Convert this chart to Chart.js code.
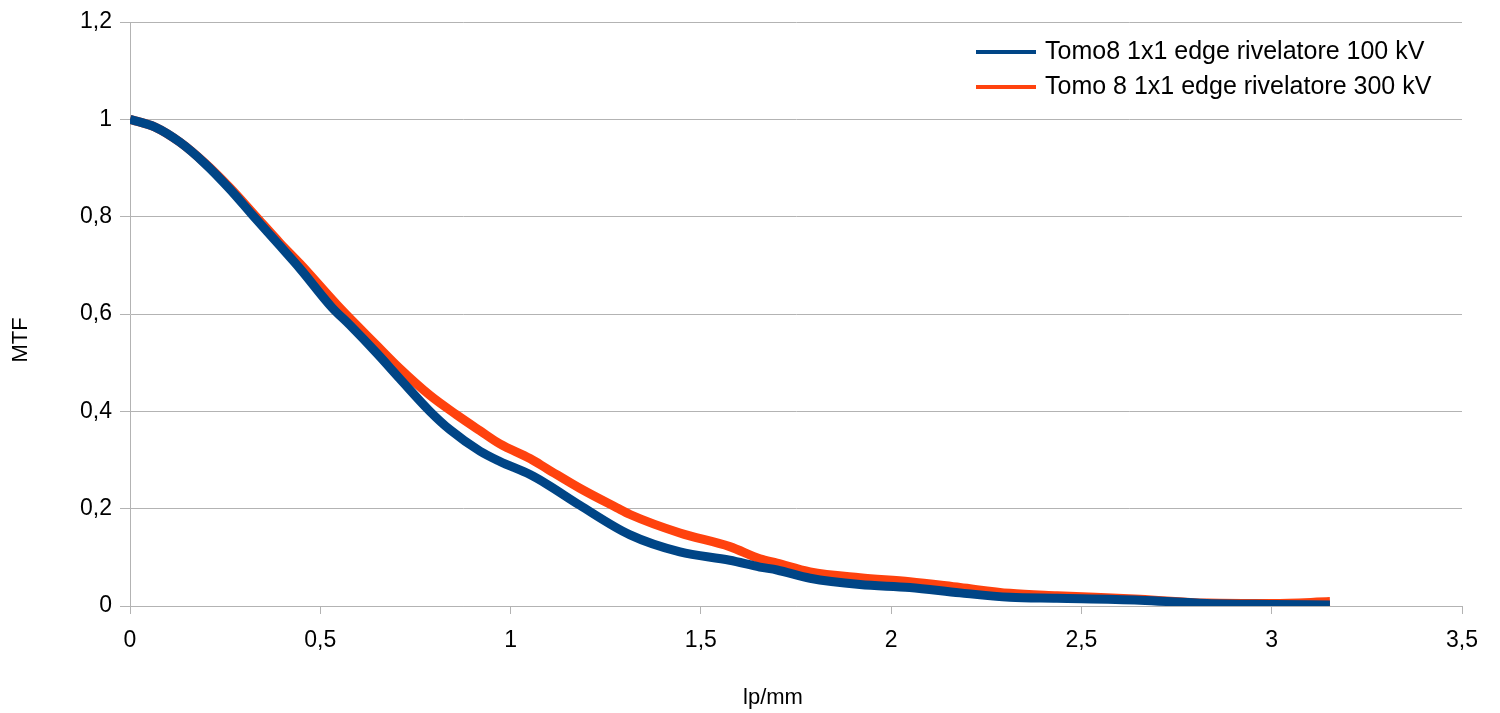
<!DOCTYPE html>
<html>
<head>
<meta charset="utf-8">
<script src="https://cdn.jsdelivr.net/npm/chart.js@4.4.1/dist/chart.umd.min.js"></script>
<style>
  html, body { margin: 0; padding: 0; background: #fff; }
  #wrap { width: 1500px; height: 713px; }
</style>
</head>
<body>
<div id="wrap"><canvas id="mtf" width="1500" height="713"></canvas></div>
<script>
// spatial frequency (lp/mm) and MTF for the two tube voltages
const freq100 = [0, 0.066, 0.131, 0.197, 0.263, 0.320, 0.394, 0.447, 0.530, 0.578, 0.649, 0.709, 0.788, 0.841,
  0.920, 0.972, 1.051, 1.096, 1.182, 1.314, 1.445, 1.576, 1.655, 1.700, 1.787, 1.918, 2.049, 2.181, 2.312,
  2.436, 2.654, 2.830, 3.003, 3.153];
const mtf100 = [1.000, 0.984, 0.953, 0.909, 0.856, 0.805, 0.740, 0.693, 0.614, 0.577, 0.519, 0.467, 0.400, 0.362,
  0.318, 0.297, 0.270, 0.250, 0.207, 0.146, 0.111, 0.094, 0.080, 0.074, 0.057, 0.044, 0.038, 0.027, 0.018,
  0.016, 0.012, 0.005, 0.003, 0.002];

const freq300 = [0, 0.066, 0.131, 0.197, 0.263, 0.328, 0.394, 0.447, 0.552, 0.649, 0.709, 0.788, 0.858, 0.920,
  0.972, 1.051, 1.096, 1.182, 1.279, 1.314, 1.445, 1.576, 1.655, 1.700, 1.787, 1.918, 2.049, 2.181, 2.312,
  2.436, 2.654, 2.830, 3.003, 3.153];
const mtf300 = [1.000, 0.984, 0.953, 0.910, 0.859, 0.803, 0.746, 0.703, 0.612, 0.535, 0.488, 0.433, 0.393, 0.360,
  0.333, 0.303, 0.282, 0.242, 0.202, 0.188, 0.150, 0.122, 0.097, 0.088, 0.070, 0.058, 0.050, 0.038, 0.026,
  0.021, 0.014, 0.006, 0.005, 0.009];

const labels = ['Tomo8 1x1 edge rivelatore 100 kV', 'Tomo 8 1x1 edge rivelatore 300 kV'];
const colors = ['#004586', '#ff420e'];
const xTitle = 'lp/mm';
const yTitle = 'MTF';

const toPoints = (xs, ys) => xs.map((x, i) => ({x: x, y: ys[i]}));
const comma = v => String(Math.round(v * 10) / 10).replace('.', ',');
const FONT = '"Liberation Sans", Arial, sans-serif';

// legend inside the plot (top right) and the two axis titles
const decorations = {
  id: 'decorations',
  afterDraw(chart) {
    const ctx = chart.ctx;
    ctx.save();
    ctx.font = '25px ' + FONT;
    ctx.textBaseline = 'middle';
    chart.data.datasets.forEach((ds, i) => {
      const y = 52 + i * 35;
      ctx.strokeStyle = ds.borderColor;
      ctx.lineWidth = 4;
      ctx.beginPath();
      ctx.moveTo(976, y);
      ctx.lineTo(1036, y);
      ctx.stroke();
      ctx.fillStyle = '#000';
      ctx.textAlign = 'left';
      ctx.fillText(ds.label, 1045, y);
    });

    ctx.fillStyle = '#000';
    ctx.font = '22px ' + FONT;
    ctx.textAlign = 'center';
    ctx.fillText(xTitle, 773, 698);
    ctx.translate(21, 340);
    ctx.rotate(-Math.PI / 2);
    ctx.fillText(yTitle, 0, 0);
    ctx.restore();
  }
};

new Chart(document.getElementById('mtf'), {
  type: 'line',
  data: {
    datasets: [
      {label: labels[0], data: toPoints(freq100, mtf100), borderColor: colors[0], backgroundColor: colors[0]},
      {label: labels[1], data: toPoints(freq300, mtf300), borderColor: colors[1], backgroundColor: colors[1]}
    ]
  },
  options: {
    responsive: false,
    animation: false,
    layout: {padding: {top: 22, right: 38, left: 0, bottom: 0}},
    elements: {
      line: {borderWidth: 9, cubicInterpolationMode: 'monotone', borderCapStyle: 'butt'},
      point: {radius: 0}
    },
    plugins: {legend: {display: false}, tooltip: {enabled: false}},
    scales: {
      x: {
        type: 'linear', min: 0, max: 3.5,
        afterFit: s => { s.height = 107; },
        ticks: {stepSize: 0.5, color: '#000', font: {family: FONT, size: 23}, padding: 13, callback: v => comma(v)},
        grid: {drawOnChartArea: false, color: '#b3b3b3', tickLength: 8, lineWidth: 1},
        border: {color: '#b3b3b3', width: 1}
      },
      y: {
        min: 0, max: 1.2,
        afterFit: s => { s.width = 130; },
        ticks: {stepSize: 0.2, color: '#000', font: {family: FONT, size: 23}, padding: 8, callback: v => comma(v)},
        grid: {color: '#b3b3b3', tickLength: 10, lineWidth: 1},
        border: {color: '#b3b3b3', width: 1}
      }
    }
  },
  plugins: [decorations]
});
</script>
</body>
</html>
